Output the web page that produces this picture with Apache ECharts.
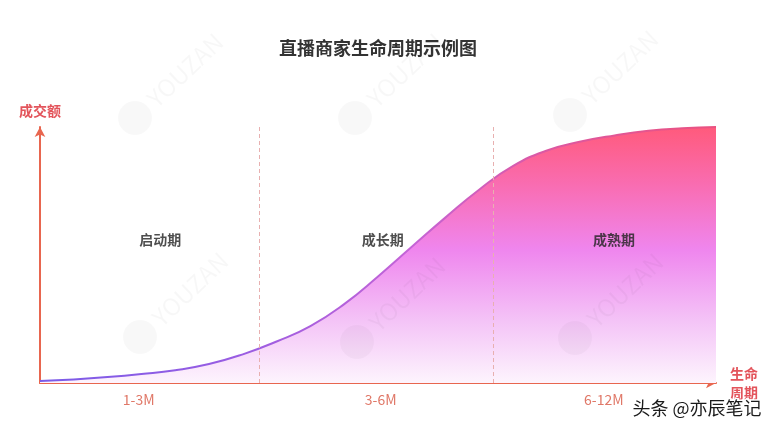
<!DOCTYPE html>
<html><head><meta charset="utf-8">
<script src="https://cdn.jsdelivr.net/npm/echarts@6/dist/echarts.min.js"></script>
<style>html,body{margin:0;padding:0;background:#fff}#c{width:778px;height:434px}</style>
</head><body><div id="c"></div>
<script>
// ---- data ----
const curveX = [0, 5, 10, 15, 20, 25, 30, 35, 40, 45, 50, 55, 60, 65, 70, 75, 80, 85, 90, 95, 100];
const curveY = [0.8, 1.4, 2.3, 3.5, 5.0, 7.4, 11.2, 16.2, 22.2, 30.8, 41.6, 53.2, 64.7, 75.6, 84.8, 90.8, 94.3, 96.7, 98.5, 99.5, 100];
const phaseBounds = [32.5, 67.0];
const tickLabels = ['1-3M', '3-6M', '6-12M'];
const tickValues = [14.6, 50.4, 83.4];
const phaseNames = ['启动期', '成长期', '成熟期'];
const phaseX = [17.8, 50.7, 84.9];
const phaseY = [55.9, 55.9, 55.9];
const titleText = '直播商家生命周期示例图';
const yName = '成交额';
const xName = '生命\n周期';
const credit = '头条 @亦辰笔记';

const FONT = '"Noto Sans CJK SC", "Noto Sans", sans-serif';
const AXIS_COLOR = '#e8664f';
const NAME_COLOR = '#e3545b';

const chart = echarts.init(document.getElementById('c'), null, {renderer: 'canvas'});

// faint YOUZAN watermarks
const wmPos = [[135, 118], [355, 118], [570, 115], [140, 337], [357, 342], [575, 338]];
const watermarks = [];
wmPos.forEach(p => {
  watermarks.push({type: 'circle', shape: {cx: p[0], cy: p[1], r: 17}, style: {fill: 'rgba(0,0,0,0.028)'}, z: 100, silent: true});
  watermarks.push({type: 'text', x: p[0] + 50, y: p[1] - 48, rotation: 0.76,
    style: {text: 'YOUZAN', fill: 'rgba(0,0,0,0.03)', font: '24px ' + FONT, align: 'center', verticalAlign: 'middle'}, z: 100, silent: true});
});

const option = {
  backgroundColor: '#fff',
  animation: false,
  title: {
    text: titleText, left: 274, top: 34,
    textStyle: {fontFamily: FONT, fontSize: 18, fontWeight: 'bold', color: '#333'}
  },
  grid: {left: 40, right: 62, top: 127, bottom: 51},
  xAxis: {
    type: 'value', min: 0, max: 100,
    axisLine: {show: true, lineStyle: {color: AXIS_COLOR, width: 2}, symbol: ['none', 'arrow'], symbolSize: [8, 10]},
    axisTick: {show: false},
    splitLine: {show: false},
    axisLabel: {
      customValues: tickValues,
      formatter: v => {
        let best = 0;
        tickValues.forEach((t, i) => { if (Math.abs(t - v) < Math.abs(tickValues[best] - v)) best = i; });
        return tickLabels[best];
      },
      color: '#e07868', fontSize: 14, margin: 10, fontFamily: FONT
    },
    name: xName, nameLocation: 'end', nameGap: 14,
    nameTextStyle: {color: NAME_COLOR, fontSize: 14, lineHeight: 19, fontFamily: FONT, fontWeight: 'bold'}
  },
  yAxis: {
    type: 'value', min: 0, max: 100,
    axisLine: {show: true, lineStyle: {color: AXIS_COLOR, width: 2}, symbol: ['none', 'arrow'], symbolSize: [8, 10]},
    axisTick: {show: false},
    splitLine: {show: false},
    axisLabel: {show: false},
    name: yName, nameLocation: 'end', nameGap: 9,
    nameTextStyle: {color: NAME_COLOR, fontSize: 14, fontFamily: FONT, fontWeight: 'bold', align: 'center'}
  },
  series: [
    {
      type: 'line',
      data: curveX.map((x, i) => [x, curveY[i]]),
      smooth: 0.5,
      showSymbol: false,
      clip: false,
      lineStyle: {
        width: 2,
        color: new echarts.graphic.LinearGradient(0, 0, 1, 0, [
          {offset: 0, color: '#7a5be8'},
          {offset: 0.3, color: '#9a5de2'},
          {offset: 0.55, color: '#c464d6'},
          {offset: 0.75, color: '#dc58a2'},
          {offset: 1, color: '#ea5280'}
        ])
      },
      areaStyle: {
        opacity: 1,
        color: new echarts.graphic.LinearGradient(0, 0, 0, 1, [
          {offset: 0, color: '#ff5a7c'},
          {offset: 0.22, color: '#f96cb0'},
          {offset: 0.48, color: '#ef86ee'},
          {offset: 0.76, color: '#f4c4f7'},
          {offset: 1, color: '#fdf4fd'}
        ])
      },
      markLine: {
        silent: true,
        symbol: ['none', 'none'],
        label: {show: false},
        lineStyle: {type: [4, 3], color: '#e8b0b0', width: 1},
        data: phaseBounds.map(b => ({xAxis: b}))
      },
      z: 2
    },
    {
      type: 'scatter',
      symbolSize: 0,
      data: phaseNames.map((n, i) => ({name: n, value: [phaseX[i], phaseY[i]]})),
      label: {
        show: true, position: 'inside', formatter: p => p.name,
        color: '#222', fontSize: 14, fontWeight: 'bold', fontFamily: FONT
      },
      z: 5
    }
  ],
  graphic: watermarks.concat([
    {
      type: 'text', right: 15, top: 398, z: 110,
      style: {text: credit, fill: '#1a1a1a', font: '18px ' + FONT, stroke: '#fff', lineWidth: 3}
    }
  ])
};
chart.setOption(option);
</script>
</body></html>
